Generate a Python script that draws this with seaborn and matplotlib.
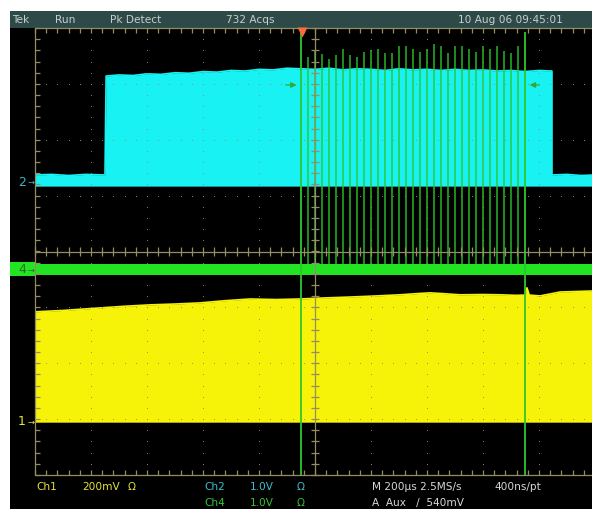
import numpy as np
import matplotlib
matplotlib.use("Agg")
import matplotlib.pyplot as plt
import matplotlib.transforms as mtransforms
from matplotlib import font_manager
from matplotlib.patches import Rectangle
import seaborn as sns

# --------------------------------------------------------------------------
# Scope setup: 10 div x 200 us across, 8 div tall. Times in us from left edge.
# --------------------------------------------------------------------------
CH1_SCALE, CH1_OFFSET = 0.2, -3.03   # V/div, ground marker (div from centre)
CH2_SCALE, CH2_OFFSET = 1.0, 1.26
CH4_SCALE, CH4_OFFSET = 1.0, -0.31

# ch2 (cyan) peak-detect envelope
ch2_time_us = [0, 60, 120, 180, 250, 254, 300, 350, 400, 450, 500, 550, 600, 650,
               700, 750, 800, 850, 900, 950, 1000, 1050, 1100, 1150, 1200, 1250,
               1300, 1350, 1400, 1450, 1500, 1550, 1600, 1650, 1700, 1750, 1800,
               1846, 1846, 1900, 1950, 2000]
ch2_top_v = [0.11, 0.12, 0.10, 0.12, 0.11, 1.88, 1.90, 1.89, 1.92, 1.91, 1.94, 1.93,
             1.96, 1.95, 1.98, 1.97, 2.00, 1.99, 2.02, 2.01, 2.00, 2.02, 1.99, 2.01,
             2.00, 1.98, 2.01, 1.99, 2.00, 1.98, 2.00, 1.98, 1.99, 1.97, 1.98, 1.96,
             1.98, 1.97, 0.11, 0.12, 0.10, 0.11]
ch2_floor_v = -0.09

# ch1 (yellow) envelope
ch1_time_us = [0, 100, 232, 320, 411, 500, 589, 680, 768, 860, 946, 1040, 1125, 1220,
               1304, 1360, 1411, 1460, 1518, 1600, 1661, 1720, 1750, 1757, 1765, 1804,
               1875, 1940, 2000]
ch1_top_v = [0.390, 0.395, 0.404, 0.410, 0.415, 0.418, 0.422, 0.430, 0.436, 0.434,
             0.436, 0.440, 0.443, 0.447, 0.451, 0.455, 0.458, 0.455, 0.451, 0.452,
             0.451, 0.449, 0.450, 0.476, 0.450, 0.447, 0.461, 0.463, 0.465]
ch1_floor_v = -0.005

# ch4 (green) idle band and burst pulses
ch4_band_v = [-0.11, 0.09]
pulse_time_us = [950, 975, 1000, 1025, 1050, 1075, 1100, 1125, 1150, 1175, 1200, 1225,
                 1250, 1275, 1300, 1325, 1350, 1375, 1400, 1425, 1450, 1475, 1500, 1525,
                 1550, 1575, 1600, 1625, 1650, 1675, 1700, 1725, 1750]
pulse_top_v = [4.31, 3.79, 3.90, 3.84, 3.75, 3.83, 3.93, 3.83, 3.79, 3.88, 3.91, 3.93,
               3.86, 3.86, 3.99, 3.99, 3.93, 3.88, 3.93, 4.02, 3.99, 3.86, 3.99, 3.99,
               3.93, 3.88, 3.99, 3.93, 3.99, 3.90, 3.86, 3.99, 4.24]

trigger_time_us = 952
aux_level_div = 2.98

header_text = ["Tek", "Run", "Pk Detect", "732 Acqs", "10 Aug 06 09:45:01"]

CYAN = "#18f2f2"
YELLOW = "#f6f208"
GREEN = "#22e422"
PULSE = "#2cc82c"
GRAT = "#948e62"
HEADER_BG = "#2d4a49"

W, H = 592, 510


def fx(px):
    return px / W


def fy(py):
    return 1 - py / H


def to_div(v, scale, offset):
    return offset + np.asarray(v) / scale


sns.set_theme(style="dark", rc={"axes.facecolor": "black", "figure.facecolor": "white"})
fams = {f.name for f in font_manager.fontManager.ttflist}
plt.rcParams["font.family"] = [f for f in ["Liberation Sans Narrow", "DejaVu Sans"] if f in fams]

fig = plt.figure(figsize=(W / 100, H / 100), dpi=100)

# scope screen + header bar
fig.patches.append(Rectangle((fx(10), 0), fx(582), 1 - 12 / H, transform=fig.transFigure,
                             facecolor="black", edgecolor="none", zorder=0))
fig.patches.append(Rectangle((fx(10), fy(28.5)), fx(582), 16.5 / H, transform=fig.transFigure,
                             facecolor=HEADER_BG, edgecolor="none", zorder=1))

ax = fig.add_axes([fx(35), 34 / H, 560 / W, 447 / H])
ax.set_zorder(3)
ax.patch.set_alpha(0)
ax.set_xlim(0, 2000)
ax.set_ylim(-4, 4)
ax.set_axis_off()

# --- traces ---
c2_top = to_div(ch2_top_v, CH2_SCALE, CH2_OFFSET)
c2_bot = to_div(ch2_floor_v, CH2_SCALE, CH2_OFFSET)
ax.fill_between(ch2_time_us, c2_bot, c2_top, color=CYAN, lw=0, zorder=2)
sns.lineplot(x=ch2_time_us, y=c2_top, color=CYAN, lw=1.2, sort=False, estimator=None, ax=ax, zorder=2)

c1_top = to_div(ch1_top_v, CH1_SCALE, CH1_OFFSET)
c1_bot = to_div(ch1_floor_v, CH1_SCALE, CH1_OFFSET)
ax.fill_between(ch1_time_us, c1_bot, c1_top, color=YELLOW, lw=0, zorder=2)
sns.lineplot(x=ch1_time_us, y=c1_top, color=YELLOW, lw=1.2, sort=False, estimator=None, ax=ax, zorder=2)

band = to_div(ch4_band_v, CH4_SCALE, CH4_OFFSET)
ax.axhspan(band[0], band[1], color=GREEN, lw=0, zorder=3)

tops = to_div(pulse_top_v, CH4_SCALE, CH4_OFFSET)
ax.vlines(pulse_time_us[1:-1], band[1], tops[1:-1], color=PULSE, lw=1.1, alpha=0.9, zorder=4)
ax.vlines([pulse_time_us[0], pulse_time_us[-1]], -4, [tops[0], tops[-1]],
          color=PULSE, lw=1.3, zorder=4)

# --- graticule ---
gk = dict(color=GRAT, lw=0.9, zorder=5, clip_on=False)
ax.plot([0, 0], [-4, 4], **gk)
ax.plot([0, 2000], [4, 4], **gk)
ax.plot([0, 2000], [-4, -4], **gk)
ax.plot([1000, 1000], [-4, 4], **gk)
ax.plot([0, 2000], [0, 0], **gk)

xt = np.arange(0, 2001, 40)
yt = np.arange(-4, 4.01, 0.2)
ax.vlines(xt, 4 - 0.09, 4, **gk)
ax.vlines(xt, -4, -4 + 0.09, **gk)
ax.hlines(yt, 0, 18, **gk)
ax.vlines(xt, -0.08, 0.08, **gk)
ax.hlines(yt, 1000 - 14, 1000 + 14, **gk)

for gx in range(200, 2000, 200):
    ax.scatter(np.full(len(yt), gx), yt, s=0.6, color=GRAT, lw=0, zorder=5)
for gy in range(-3, 4):
    ax.scatter(xt, np.full(len(xt), gy), s=0.6, color=GRAT, lw=0, zorder=5)

# trigger point marker and aux level arrows
ax.plot(trigger_time_us, 3.93, marker="v", ms=7, color="#ff6a3d", mec="none", clip_on=False, zorder=6)
ak = dict(arrowstyle="-|>", color="#33a833", lw=0.9, mutation_scale=8)
ax.annotate("", xy=(944, aux_level_div), xytext=(886, aux_level_div), arrowprops=ak, zorder=6)
ax.annotate("", xy=(1757, aux_level_div), xytext=(1811, aux_level_div), arrowprops=ak, zorder=6)

# --- channel markers on the left ---
mix = mtransforms.blended_transform_factory(fig.transFigure, ax.transData)
ax.add_patch(Rectangle((fx(10), CH4_OFFSET - 0.13), fx(25), 0.26, transform=mix,
                       facecolor=GREEN, edgecolor="none", clip_on=False, zorder=6))
for lab, off, col in [("2", CH2_OFFSET, "#3fb6c6"), ("4", CH4_OFFSET, "#2e6a2e"),
                      ("1", CH1_OFFSET, "#e8e43c")]:
    ax.text(fx(22), off, lab, transform=mix, color=col, fontsize=9, ha="center", va="center",
            clip_on=False, zorder=7)
    ax.text(fx(31), off, "→", transform=mix, color=col, fontsize=6, ha="center", va="center",
            family="DejaVu Sans", clip_on=False, zorder=7)

# --- header ---
for lab, px in zip(header_text, [12, 55, 110, 226, 458]):
    fig.text(fx(px), fy(20), lab, color="#c5cfcd", fontsize=7.6, ha="left", va="center")

# --- footer readouts ---
foot = [("Ch1", 36, 486.5, "#e4e23c"), ("200mV", 82, 486.5, "#e4e23c"), ("Ω", 128, 486.5, "#e4e23c"),
        ("Ch2", 204, 486.5, "#3cc0cc"), ("1.0V", 250, 486.5, "#3cc0cc"), ("Ω", 297, 486.5, "#3cc0cc"),
        ("Ch4", 204, 503, "#34c234"), ("1.0V", 250, 503, "#34c234"), ("Ω", 297, 503, "#34c234"),
        ("M 200µs 2.5MS/s", 372, 486.5, "#d6d6d6"), ("400ns/pt", 494, 486.5, "#d6d6d6"),
        ("A  Aux   /  540mV", 372, 503, "#d6d6d6")]
for lab, px, py, col in foot:
    fig.text(fx(px), fy(py), lab, color=col, fontsize=7.6, ha="left", va="center")

fig.savefig("out.png", dpi=100)
